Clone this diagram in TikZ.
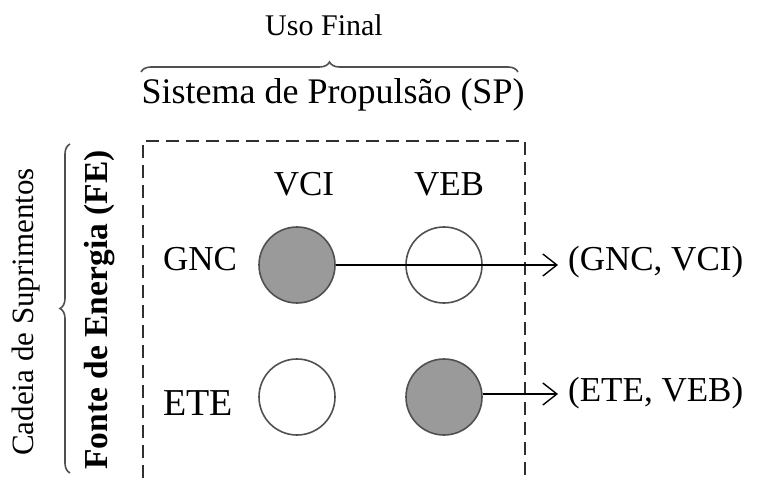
\documentclass[tikz,border=0pt]{standalone}
\usepackage{fontspec}
\setmainfont{Liberation Serif}
\usetikzlibrary{decorations.pathreplacing,arrows.meta}
\definecolor{fillgray}{HTML}{9A9A9A}
\definecolor{edgegray}{HTML}{505050}
\definecolor{dashgray}{HTML}{303030}
\tikzset{
  dot/.style={circle,draw=edgegray,line width=1.6pt,minimum size=76pt,inner sep=0pt},
  full/.style={dot,fill=fillgray},
  empty/.style={dot,fill=white},
  lbl/.style={inner sep=0pt,font=\fontsize{35}{40}\selectfont},
  conn/.style={line width=1.4pt,-{Straight Barb[length=14pt,width=22pt,line width=1.4pt]}},
  frame/.style={dashgray,line width=2.4pt,dash pattern=on 13pt off 7pt},
  brc/.style={draw=edgegray,line width=1.6pt,decorate,decoration={brace,amplitude=10pt}}
}
\begin{document}
\begin{tikzpicture}[x=1pt,y=-1pt]
\useasboundingbox (0,0) rectangle (757,478);
% frame
\draw[frame] (143,478) -- (143,141) -- (525,141) -- (525,478);
% top labels
\node[lbl,font=\fontsize{30}{34}\selectfont] (uso) at (324,25) {Uso Final};
\draw[brc] (141,72) -- (518,72);
\node[lbl,font=\fontsize{36}{40}\selectfont] (sp) at (333,95) {Sistema de Propulsão (SP)};
% left labels
\draw[brc] (70,473) -- (70,144);
\node[lbl,rotate=90,font=\fontsize{31}{34}\selectfont] (cs) at (26,312) {Cadeia de Suprimentos};
\node[lbl,rotate=90,font=\bfseries\fontsize{33.5}{38}\selectfont] (fe) at (100,310) {Fonte de Energia (FE)};
% column / row labels
\node[lbl] (vci) at (304,184) {VCI};
\node[lbl] (veb) at (449,184) {VEB};
\node[lbl] (gnc) at (200,259) {GNC};
\node[lbl,font=\fontsize{38}{42}\selectfont] (ete) at (198,403) {ETE};
% circles
\node[full] (c11) at (297,265) {};
\node[empty] (c12) at (444,265) {};
\node[empty] (c21) at (297,397) {};
\node[full] (c22) at (444,397) {};
% outputs
\node[lbl,anchor=west] (o1) at (568,262) {(GNC, VCI)};
\node[lbl,anchor=west] (o2) at (568,393) {(ETE, VEB)};
\coordinate (t1) at (558,265);
\coordinate (t2) at (558,394);
\draw[conn] (c11.east) -- (t1);
\draw[conn] (c22.east |- t2) -- (t2);
\end{tikzpicture}
\end{document}
